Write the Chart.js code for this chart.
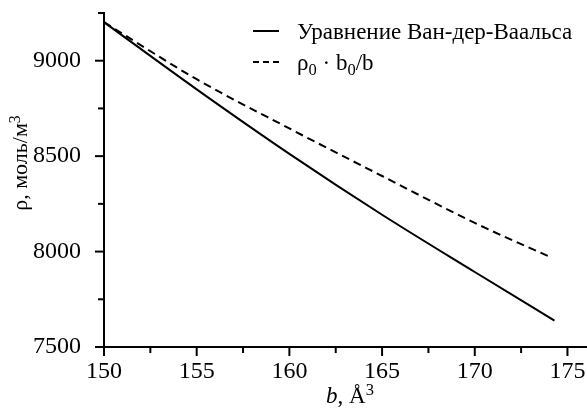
<!DOCTYPE html>
<html>
<head>
<meta charset="utf-8">
<script src="https://cdn.jsdelivr.net/npm/chart.js@4"></script>
<style>
  body { margin: 0; background: #fff; }
  #wrap { width: 587px; height: 409px; }
</style>
</head>
<body>
<div id="wrap"><canvas id="rhoChart"></canvas></div>
<script>
// значения
const vdwB = [150, 155, 160, 165, 170, 174.3];
const vdwRho = [9202, 8850, 8512, 8193, 7893, 7638];
const idealB = [150, 155, 160, 165, 170, 174.1];
const idealRho = [9202, 8903, 8645, 8396, 8150, 7970];

const bTicks = [150, 155, 160, 165, 170, 175];
const bMinor = [152.5, 157.5, 162.5, 167.5, 172.5];
const rhoTicks = [7500, 8000, 8500, 9000];
const rhoMinor = [7750, 8250, 8750, 9250];

const seriesLabels = ['Уравнение Ван-дер-Ваальса', 'ρ_0 · b_0/b'];

const FONT = 'Liberation Serif, Times New Roman, serif';

// рисует строку с _индексами и ^степенями
function richText(ctx, str, x, y, size, italicFirst) {
  const parts = str.split(/([_^].)/);
  let cx = x;
  parts.forEach((p, i) => {
    if (!p) return;
    let s = size, dy = 0, t = p;
    if (p[0] === '_') { t = p[1]; s = size * 0.72; dy = size * 0.22; }
    else if (p[0] === '^') { t = p[1]; s = size * 0.72; dy = -size * 0.34; }
    if (italicFirst && i === 0) {
      ctx.font = 'italic ' + s + 'px ' + FONT;
      ctx.fillText(t[0], cx, y + dy);
      cx += ctx.measureText(t[0]).width;
      t = t.slice(1);
    }
    ctx.font = s + 'px ' + FONT;
    ctx.fillText(t, cx, y + dy);
    cx += ctx.measureText(t).width;
  });
  return cx - x;
}

function measureRich(ctx, str, size, italicFirst) {
  ctx.save();
  ctx.globalAlpha = 0;
  const w = richText(ctx, str, 0, 0, size, italicFirst);
  ctx.restore();
  return w;
}

const decorPlugin = {
  id: 'decor',
  afterDraw(chart) {
    const ctx = chart.ctx;
    const area = chart.chartArea;
    const xs = chart.scales.x, ys = chart.scales.y;
    ctx.save();
    ctx.strokeStyle = '#000';
    ctx.fillStyle = '#000';
    ctx.lineWidth = 2;
    // засечки
    const tick = (x1, y1, x2, y2) => { ctx.beginPath(); ctx.moveTo(x1, y1); ctx.lineTo(x2, y2); ctx.stroke(); };
    bTicks.forEach(v => { const x = xs.getPixelForValue(v); tick(x, area.bottom, x, area.bottom + 9); });
    bMinor.forEach(v => { const x = xs.getPixelForValue(v); tick(x, area.bottom, x, area.bottom + 6); });
    rhoTicks.forEach(v => { const y = ys.getPixelForValue(v); tick(area.left - 9, y, area.left, y); });
    rhoMinor.forEach(v => { const y = ys.getPixelForValue(v); tick(area.left - 6, y, area.left, y); });

    // подписи осей
    ctx.textBaseline = 'alphabetic';
    ctx.textAlign = 'left';
    const xt = 'b, Å^3';
    const xw = measureRich(ctx, xt, 23, true);
    richText(ctx, xt, 350 - xw / 2, 403, 23, true);

    ctx.save();
    ctx.translate(27, 163);
    ctx.rotate(-Math.PI / 2);
    const yt = 'ρ, моль/м^3';
    const yw = measureRich(ctx, yt, 22, false);
    richText(ctx, yt, -yw / 2, 0, 22, false);
    ctx.restore();

    // легенда
    chart.data.datasets.forEach((ds, i) => {
      const ly = 31 + i * 31;
      ctx.lineWidth = 2;
      ctx.setLineDash(i === 1 ? [6, 4] : []);
      ctx.beginPath(); ctx.moveTo(253, ly); ctx.lineTo(279, ly); ctx.stroke();
      ctx.setLineDash([]);
      richText(ctx, ds.label, 297, ly + 8, 23, false);
    });
    ctx.restore();
  }
};

const ctx = document.getElementById('rhoChart').getContext('2d');
new Chart(ctx, {
  type: 'line',
  data: {
    datasets: [{
      label: seriesLabels[0],
      data: vdwB.map((b, i) => ({ x: b, y: vdwRho[i] })),
      borderColor: '#000',
      borderWidth: 2,
      pointRadius: 0,
      fill: false,
      cubicInterpolationMode: 'monotone'
    }, {
      label: seriesLabels[1],
      data: idealB.map((b, i) => ({ x: b, y: idealRho[i] })),
      borderColor: '#000',
      borderWidth: 2,
      borderDash: [8, 5],
      pointRadius: 0,
      fill: false,
      cubicInterpolationMode: 'monotone'
    }]
  },
  options: {
    responsive: true,
    maintainAspectRatio: false,
    animation: false,
    layout: { padding: { top: 13, right: 1, left: 0, bottom: 0 } },
    plugins: { legend: { display: false }, tooltip: { enabled: false } },
    scales: {
      x: {
        type: 'linear',
        min: 150,
        max: 176,
        afterBuildTicks: s => { s.ticks = bTicks.map(v => ({ value: v })); },
        afterFit: s => { s.height = 62; s.paddingLeft = 0; s.paddingRight = 0; },
        grid: { display: false },
        border: { display: true, color: '#000', width: 2 },
        ticks: { color: '#000', font: { family: FONT, size: 24 }, padding: 2, maxRotation: 0, autoSkip: false, callback: v => String(v) }
      },
      y: {
        type: 'linear',
        min: 7500,
        max: 9250,
        afterBuildTicks: s => { s.ticks = rhoTicks.map(v => ({ value: v })); },
        afterFit: s => { s.width = 104; s.paddingTop = 0; s.paddingBottom = 0; },
        grid: { display: false },
        border: { display: true, color: '#000', width: 2 },
        ticks: { color: '#000', font: { family: FONT, size: 24 }, padding: 15, autoSkip: false, callback: v => String(v) }
      }
    }
  },
  plugins: [decorPlugin]
});
</script>
</body>
</html>
